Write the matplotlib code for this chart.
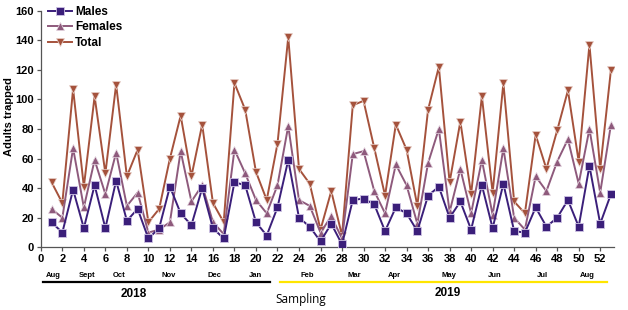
import numpy as np
import matplotlib.pyplot as plt

# sampling number 1..53
weeks = list(range(1, 54))
males = [17, 10, 39, 13, 42, 13, 45, 18, 26, 6,
         13, 41, 23, 15, 40, 13, 6, 44, 42, 17,
         8, 27, 59, 20, 14, 4, 16, 2, 32, 33,
         29, 11, 27, 23, 11, 35, 41, 20, 31, 12,
         42, 13, 43, 11, 10, 27, 14, 20, 32, 14,
         55, 16, 36]
females = [26, 20, 67, 27, 59, 36, 64, 28, 37, 10,
           12, 17, 65, 31, 42, 17, 9, 66, 50, 32,
           23, 42, 82, 32, 28, 10, 21, 6, 63, 65,
           38, 23, 56, 42, 16, 57, 80, 24, 53, 23,
           59, 22, 67, 20, 12, 48, 38, 58, 73, 43,
           80, 37, 83]
total = [44, 30, 107, 41, 102, 50, 110, 48, 66, 17,
         26, 60, 89, 48, 83, 30, 17, 111, 93, 51,
         32, 70, 142, 53, 43, 12, 38, 8, 96, 99,
         67, 35, 83, 66, 28, 93, 122, 44, 85, 36,
         102, 37, 111, 31, 23, 76, 53, 79, 106, 58,
         137, 53, 120]

months = ['Aug', 'Sept', 'Oct', 'Nov', 'Dec', 'Jan', 'Feb', 'Mar', 'Apr',
          'May', 'Jun', 'Jul', 'Aug']
month_pos = [1.2, 4.3, 7.3, 11.9, 16.1, 20.0, 24.8, 29.1, 32.9,
             37.9, 42.2, 46.6, 50.8]

c_m = '#3b1f7a'
c_f = '#8e5a7c'
c_t = '#a5523c'

fig = plt.figure(figsize=(6.28, 3.10), dpi=100)
ax = fig.add_axes([0.065, 0.202, 0.913, 0.764])

lt, = ax.plot(weeks, total, color=c_t, lw=1.4, marker='v', ms=5.5,
              mec='#e8d2cc', mew=0.5, label='Total', zorder=2)
lf, = ax.plot(weeks, females, color=c_f, lw=1.4, marker='^', ms=5.5,
              mec='#e6d8e2', mew=0.5, label='Females', zorder=3)
lm, = ax.plot(weeks, males, color=c_m, lw=1.4, marker='s', ms=5.8,
              mec='#cfc4e4', mew=0.6, label='Males', zorder=4)

ax.set_xlim(0, 53.3)
ax.set_ylim(0, 160)
ax.set_xticks(np.arange(0, 53, 2))
ax.set_yticks(np.arange(0, 161, 20))
for s in ['top', 'right']:
    ax.spines[s].set_visible(False)
for s in ['left', 'bottom']:
    ax.spines[s].set_color('#555555')
    ax.spines[s].set_linewidth(0.9)
ax.tick_params(direction='out', length=3, width=0.9, color='#555555', pad=2)
for lab in ax.get_xticklabels() + ax.get_yticklabels():
    lab.set_fontfamily('Liberation Sans')
    lab.set_fontweight('bold')
    lab.set_fontsize(8)

ax.set_ylabel('Adults trapped', fontfamily='Liberation Sans',
              fontweight='bold', fontsize=8)
ax.yaxis.set_label_coords(-0.046, 0.552)

leg = ax.legend(handles=[lm, lf, lt], loc='upper left', frameon=False,
                bbox_to_anchor=(0.0, 1.05), handlelength=2.0,
                handletextpad=0.3, labelspacing=0.3, borderaxespad=0.2,
                prop={'family': 'Liberation Sans', 'weight': 'bold', 'size': 8.5})

# month labels under the axis
trans = ax.get_xaxis_transform()
for m, p in zip(months, month_pos):
    ax.text(p, -0.117, m, transform=trans, ha='center', va='center',
            fontfamily='Liberation Sans', fontweight='bold', fontsize=5.5)

# year bars
ax.plot([0.2, 21.3], [-0.148, -0.148], transform=trans, color='black',
        lw=1.6, clip_on=False)
ax.plot([22.2, 52.6], [-0.148, -0.148], transform=trans, color='#ffe500',
        lw=1.6, clip_on=False)
ax.text(8.6, -0.197, '2018', transform=trans, ha='center', va='center',
        fontfamily='Liberation Sans', fontweight='bold', fontsize=8.5)
ax.text(37.8, -0.192, '2019', transform=trans, ha='center', va='center',
        fontfamily='Liberation Sans', fontweight='bold', fontsize=8.5)
ax.text(24.2, -0.22, 'Sampling', transform=trans, ha='center', va='center',
        fontfamily='Open Sans', fontsize=8.5)

fig.savefig('out.png', dpi=100)
